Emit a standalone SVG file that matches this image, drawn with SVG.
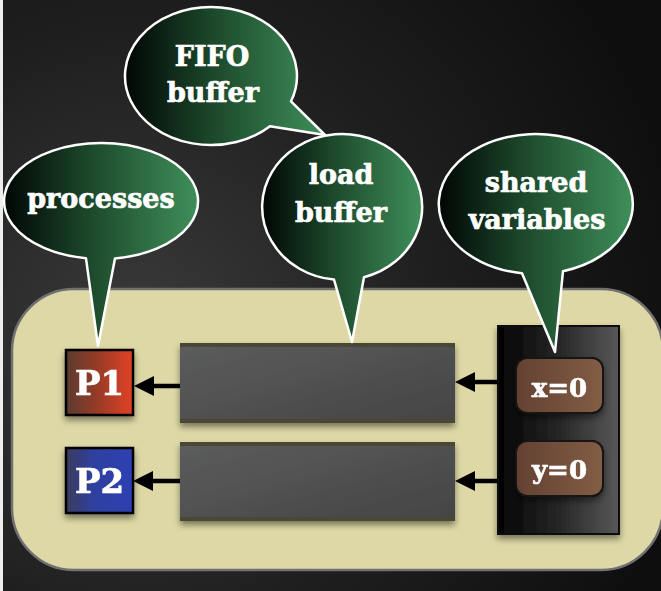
<svg xmlns="http://www.w3.org/2000/svg" width="661" height="591" viewBox="0 0 661 591">
  <defs>
    <radialGradient id="bg" gradientUnits="userSpaceOnUse" cx="140" cy="330" r="560">
      <stop offset="0" stop-color="#3a3a3a"/>
      <stop offset="0.55" stop-color="#1e1e1e"/>
      <stop offset="1" stop-color="#0e0e0e"/>
    </radialGradient>
    <linearGradient id="bubble" x1="0" y1="0" x2="1" y2="0">
      <stop offset="0" stop-color="#010604"/>
      <stop offset="0.45" stop-color="#1d4a2c"/>
      <stop offset="1" stop-color="#3f8f5a"/>
    </linearGradient>
    <linearGradient id="bufFill" x1="0" y1="0" x2="1" y2="1">
      <stop offset="0" stop-color="#5c5d5d"/>
      <stop offset="1" stop-color="#444444"/>
    </linearGradient>
    <linearGradient id="panelFill" x1="0" y1="0" x2="1" y2="0">
      <stop offset="0" stop-color="#030303"/>
      <stop offset="0.5" stop-color="#262626"/>
      <stop offset="1" stop-color="#585858"/>
    </linearGradient>
    <linearGradient id="varFill" x1="0" y1="0" x2="1" y2="0">
      <stop offset="0" stop-color="#634132"/>
      <stop offset="1" stop-color="#835d44"/>
    </linearGradient>
    <linearGradient id="p1Fill" x1="0" y1="0" x2="1" y2="0">
      <stop offset="0" stop-color="#5a3a30"/>
      <stop offset="0.5" stop-color="#9c3a26"/>
      <stop offset="1" stop-color="#e34226"/>
    </linearGradient>
    <linearGradient id="p2Fill" x1="0" y1="0" x2="1" y2="0">
      <stop offset="0" stop-color="#3b3d5c"/>
      <stop offset="0.4" stop-color="#2f3f9e"/>
      <stop offset="1" stop-color="#2e41b2"/>
    </linearGradient>
    <filter id="shadow" x="-20%" y="-20%" width="140%" height="150%">
      <feDropShadow dx="0" dy="4" stdDeviation="3" flood-color="#000" flood-opacity="0.45"/>
    </filter>
    <marker id="head" viewBox="0 0 20 20" refX="10" refY="10" markerWidth="21" markerHeight="20" markerUnits="userSpaceOnUse" orient="auto">
      <path d="M0,0 L20,10 L0,20 Z" fill="#000"/>
    </marker>
    <style>
      .bubble { fill: url(#bubble); stroke: #ffffff; stroke-width: 2.5; stroke-linejoin: round; }
      .label { font-family: "DejaVu Serif", "Liberation Serif", serif; font-weight: bold; fill: #ffffff; stroke: #ffffff; stroke-width: 0.7; text-anchor: middle; }
      .btext { font-size: 27px; }
      .ptext { font-size: 34px; }
      .vtext { font-size: 26px; }
      .buf { fill: url(#bufFill); }
      .bufEdge { fill: #4b4636; }
      .proc { stroke: #000; stroke-width: 2.5; }
      .var { fill: url(#varFill); stroke: #121212; stroke-width: 2; }
      .arrow { stroke: #000; stroke-width: 4.5; fill: none; marker-end: url(#head); }
    </style>
  </defs>

  <!-- backdrop -->
  <rect x="0" y="0" width="661" height="591" fill="url(#bg)"/>
  <rect x="0" y="0" width="3" height="591" fill="#eeeeee"/>

  <!-- system frame -->
  <rect id="frame" x="12" y="289" width="651" height="281" rx="62" ry="62" fill="#ddd8a5" stroke="#707070" stroke-width="2.5"/>

  <!-- load buffers -->
  <g id="buffer1" filter="url(#shadow)">
    <rect class="buf" x="180" y="343" width="275" height="80"/>
    <rect class="bufEdge" x="180" y="343" width="275" height="4"/>
    <rect class="bufEdge" x="180" y="419" width="275" height="4"/>
  </g>
  <g id="buffer2" filter="url(#shadow)">
    <rect class="buf" x="180" y="442" width="275" height="79"/>
    <rect class="bufEdge" x="180" y="442" width="275" height="4"/>
    <rect class="bufEdge" x="180" y="517" width="275" height="4"/>
  </g>

  <!-- shared memory panel -->
  <g id="memory" filter="url(#shadow)">
    <rect x="498" y="326" width="121" height="208" fill="url(#panelFill)" stroke="#0a0a0a" stroke-width="2"/>
  </g>
  <g id="varX" filter="url(#shadow)">
    <rect class="var" x="516" y="358" width="87" height="55" rx="11" ry="11"/>
    <text class="label vtext" x="559.5" y="397">x=0</text>
  </g>
  <g id="varY" filter="url(#shadow)">
    <rect class="var" x="516" y="441" width="87" height="55" rx="11" ry="11"/>
    <text class="label vtext" x="559.5" y="479">y=0</text>
  </g>

  <!-- processes -->
  <g id="P1" filter="url(#shadow)">
    <rect class="proc" x="66" y="350" width="67" height="65" fill="url(#p1Fill)"/>
    <text class="label ptext" x="99.5" y="395">P1</text>
  </g>
  <g id="P2" filter="url(#shadow)">
    <rect class="proc" x="66" y="448" width="67" height="65" fill="url(#p2Fill)"/>
    <text class="label ptext" x="99.5" y="493">P2</text>
  </g>

  <!-- connectors -->
  <g id="connectors">
    <line class="arrow" x1="180" y1="386" x2="144" y2="386"/>
    <line class="arrow" x1="498" y1="382" x2="465" y2="382"/>
    <line class="arrow" x1="180" y1="481" x2="143" y2="481"/>
    <line class="arrow" x1="498" y1="481" x2="465" y2="481"/>
  </g>

  <!-- callouts -->
  <g id="callout-fifo">
    <path class="bubble" d="M270,126.2 A86,69 0 1 1 291,101.3 L325,135 Z"/>
    <text class="label btext" x="212" y="66">FIFO</text>
    <text class="label btext" x="213" y="102">buffer</text>
  </g>
  <g id="callout-processes">
    <path class="bubble" d="M115,258.4 A97,58 0 1 0 86,258.3 L98,346 Z"/>
    <text class="label btext" x="101" y="208">processes</text>
  </g>
  <g id="callout-load">
    <path class="bubble" d="M364,277.2 A80,73 0 1 0 334,279.6 L352,342 Z"/>
    <text class="label btext" x="341" y="184">load</text>
    <text class="label btext" x="341" y="222">buffer</text>
  </g>
  <g id="callout-shared">
    <path class="bubble" d="M563,271.2 A97,70 0 1 0 522,273.3 L555,352 Z"/>
    <text class="label btext" x="536" y="192">shared</text>
    <text class="label btext" x="537" y="229">variables</text>
  </g>
</svg>
